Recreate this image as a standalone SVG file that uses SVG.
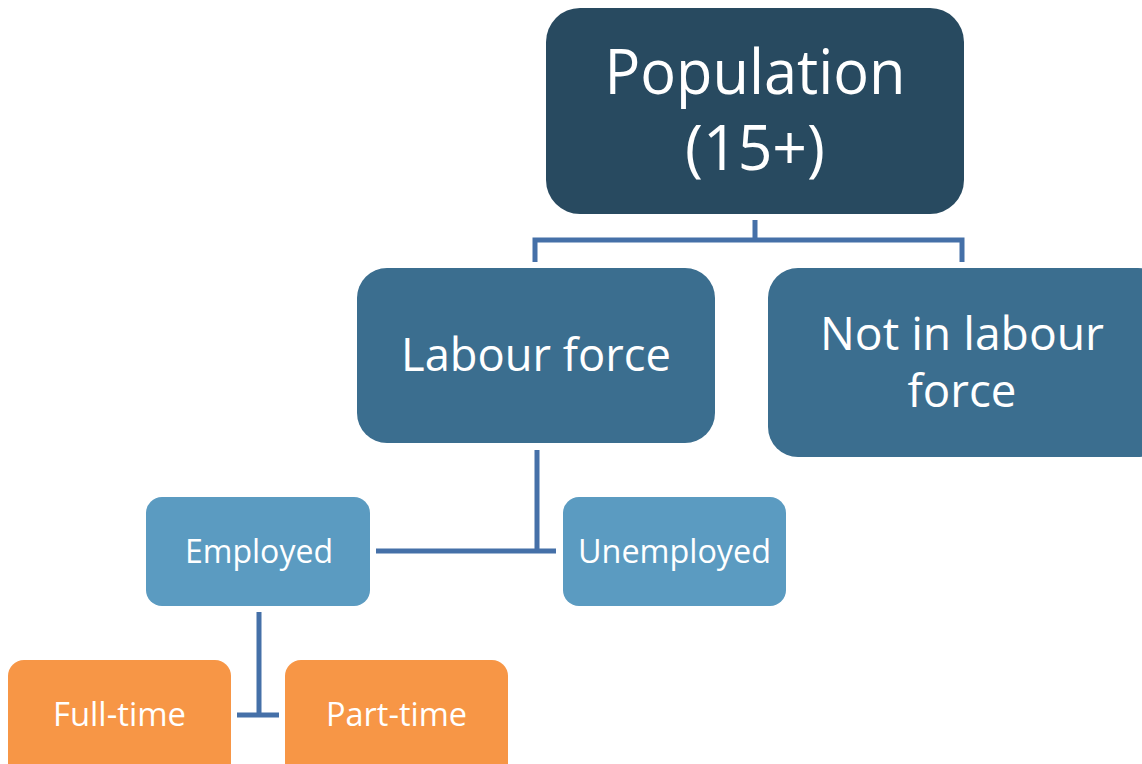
<svg xmlns="http://www.w3.org/2000/svg" width="1142" height="764" viewBox="0 0 1142 764">
<style>
text{font-family:"Open Sans","Noto Sans","DejaVu Sans",sans-serif;fill:#ffffff;text-anchor:middle}
.c{stroke:#4570a8;stroke-width:5;fill:none}
</style>
<rect width="1142" height="764" fill="#ffffff"/>
<g id="connectors">
<path class="c" d="M755 220V240M535 262V240H962V262"/>
<path class="c" d="M537 450V551M376 551H556"/>
<path class="c" d="M259 612V715M237 715H279"/>
</g>
<g id="population">
<rect x="546" y="8" width="418" height="206" rx="34" fill="#284a60"/>
<text x="755" y="94" font-size="63" textLength="301" lengthAdjust="spacingAndGlyphs">Population</text>
<text x="755" y="170" font-size="63" textLength="140" lengthAdjust="spacingAndGlyphs">(15+)</text>
</g>
<g id="labour-force">
<rect x="357" y="268" width="358" height="175" rx="30" fill="#3b6e8f"/>
<text x="536" y="371" font-size="46" textLength="270" lengthAdjust="spacingAndGlyphs">Labour force</text>
</g>
<g id="not-in-labour-force">
<rect x="768" y="268" width="400" height="189" rx="30" fill="#3b6e8f"/>
<text x="962" y="350" font-size="46" textLength="284" lengthAdjust="spacingAndGlyphs">Not in labour</text>
<text x="962" y="407" font-size="46" textLength="109" lengthAdjust="spacingAndGlyphs">force</text>
</g>
<g id="employed">
<rect x="146" y="497" width="224" height="109" rx="16" fill="#5b9bc1"/>
<text x="259" y="563" font-size="32" textLength="148" lengthAdjust="spacingAndGlyphs">Employed</text>
</g>
<g id="unemployed">
<rect x="563" y="497" width="223" height="109" rx="16" fill="#5b9bc1"/>
<text x="674.5" y="563" font-size="32" textLength="193" lengthAdjust="spacingAndGlyphs">Unemployed</text>
</g>
<g id="full-time">
<rect x="8" y="660" width="223" height="120" rx="16" fill="#f79646"/>
<text x="119.5" y="726" font-size="32" textLength="133" lengthAdjust="spacingAndGlyphs">Full-time</text>
</g>
<g id="part-time">
<rect x="285" y="660" width="223" height="120" rx="16" fill="#f79646"/>
<text x="396.5" y="726" font-size="32" textLength="141" lengthAdjust="spacingAndGlyphs">Part-time</text>
</g>
</svg>
